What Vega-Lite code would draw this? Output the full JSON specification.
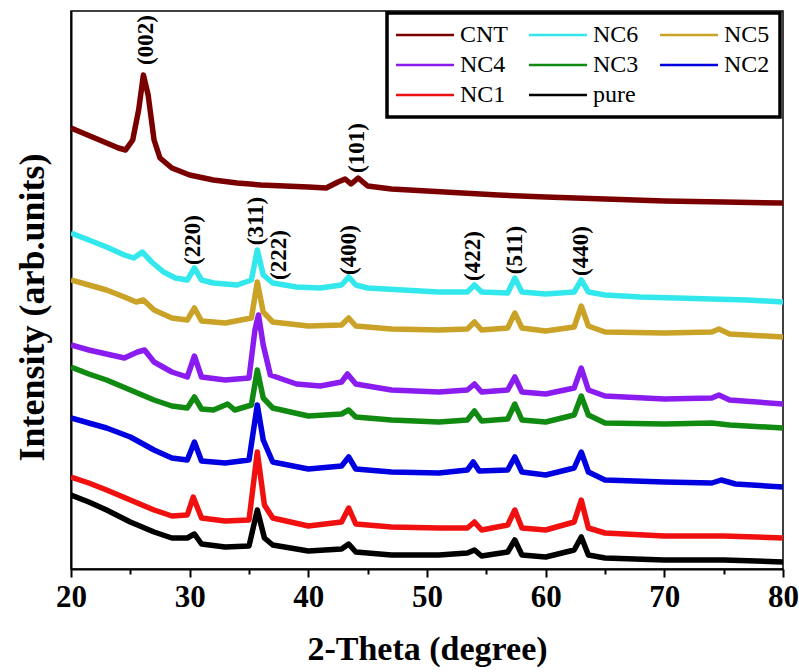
{
  "$schema": "https://vega.github.io/schema/vega-lite/v6.json",
  "width": 712,
  "height": 558,
  "autosize": "none",
  "padding": {"left": 71, "top": 11, "right": 16, "bottom": 103},
  "background": "white",
  "config": {
    "view": {"stroke": "black", "strokeWidth": 1.5},
    "font": "Times New Roman",
    "legend": {"strokeColor": "black", "strokeWidth": 3.5, "labelFont": "Times New Roman", "labelFontWeight": "normal"}
  },
  "datasets": {
    "xrd": [
      {"s":"CNT","x":20,"y":441},{"s":"CNT","x":21,"y":436},{"s":"CNT","x":22,"y":431},{"s":"CNT","x":23,"y":426},{"s":"CNT","x":24,"y":421},{"s":"CNT","x":24.6,"y":419},{"s":"CNT","x":25.2,"y":429},{"s":"CNT","x":25.7,"y":459},{"s":"CNT","x":26.1,"y":494},{"s":"CNT","x":26.5,"y":474},{"s":"CNT","x":27.0,"y":429},{"s":"CNT","x":27.5,"y":411},{"s":"CNT","x":28.5,"y":401},{"s":"CNT","x":30,"y":394},{"s":"CNT","x":32,"y":389},{"s":"CNT","x":34,"y":386},{"s":"CNT","x":36,"y":384},{"s":"CNT","x":38,"y":383},{"s":"CNT","x":40,"y":382},{"s":"CNT","x":41.5,"y":381},{"s":"CNT","x":42.5,"y":387},{"s":"CNT","x":43.1,"y":390},{"s":"CNT","x":43.6,"y":385},{"s":"CNT","x":44.2,"y":391},{"s":"CNT","x":45,"y":383},{"s":"CNT","x":47,"y":380},{"s":"CNT","x":50,"y":378},{"s":"CNT","x":53,"y":376},{"s":"CNT","x":56,"y":374},{"s":"CNT","x":60,"y":372},{"s":"CNT","x":65,"y":370},{"s":"CNT","x":70,"y":368},{"s":"CNT","x":75,"y":367},{"s":"CNT","x":80,"y":366},

      {"s":"NC6","x":20,"y":336},{"s":"NC6","x":21.5,"y":329},{"s":"NC6","x":23,"y":322},{"s":"NC6","x":24.5,"y":314},{"s":"NC6","x":25.3,"y":311},{"s":"NC6","x":26.0,"y":317},{"s":"NC6","x":26.8,"y":307},{"s":"NC6","x":27.8,"y":297},{"s":"NC6","x":28.8,"y":291},{"s":"NC6","x":29.8,"y":289},{"s":"NC6","x":30.4,"y":301},{"s":"NC6","x":31.0,"y":289},{"s":"NC6","x":32,"y":286},{"s":"NC6","x":34,"y":284},{"s":"NC6","x":35.2,"y":289},{"s":"NC6","x":35.7,"y":319},{"s":"NC6","x":36.2,"y":294},{"s":"NC6","x":37,"y":286},{"s":"NC6","x":39,"y":282},{"s":"NC6","x":41,"y":281},{"s":"NC6","x":42.8,"y":284},{"s":"NC6","x":43.4,"y":292},{"s":"NC6","x":44,"y":284},{"s":"NC6","x":45,"y":281},{"s":"NC6","x":48,"y":279},{"s":"NC6","x":51,"y":277},{"s":"NC6","x":53.4,"y":277},{"s":"NC6","x":54.0,"y":284},{"s":"NC6","x":54.6,"y":277},{"s":"NC6","x":56.8,"y":276},{"s":"NC6","x":57.4,"y":291},{"s":"NC6","x":58.0,"y":277},{"s":"NC6","x":60,"y":275},{"s":"NC6","x":62.4,"y":277},{"s":"NC6","x":63.0,"y":289},{"s":"NC6","x":63.6,"y":277},{"s":"NC6","x":65,"y":274},{"s":"NC6","x":68,"y":272},{"s":"NC6","x":71,"y":271},{"s":"NC6","x":74,"y":270},{"s":"NC6","x":77,"y":269},{"s":"NC6","x":80,"y":267},

      {"s":"NC5","x":20,"y":289},{"s":"NC5","x":21.5,"y":284},{"s":"NC5","x":23,"y":279},{"s":"NC5","x":24.5,"y":272},{"s":"NC5","x":25.5,"y":267},{"s":"NC5","x":26.1,"y":269},{"s":"NC5","x":27,"y":259},{"s":"NC5","x":28.5,"y":251},{"s":"NC5","x":29.8,"y":249},{"s":"NC5","x":30.4,"y":261},{"s":"NC5","x":31.0,"y":248},{"s":"NC5","x":33,"y":246},{"s":"NC5","x":35.2,"y":251},{"s":"NC5","x":35.7,"y":287},{"s":"NC5","x":36.2,"y":257},{"s":"NC5","x":37,"y":247},{"s":"NC5","x":40,"y":243},{"s":"NC5","x":42.8,"y":244},{"s":"NC5","x":43.4,"y":251},{"s":"NC5","x":44,"y":243},{"s":"NC5","x":47,"y":240},{"s":"NC5","x":51,"y":239},{"s":"NC5","x":53.4,"y":240},{"s":"NC5","x":54.0,"y":247},{"s":"NC5","x":54.6,"y":239},{"s":"NC5","x":56.8,"y":241},{"s":"NC5","x":57.4,"y":256},{"s":"NC5","x":58.0,"y":241},{"s":"NC5","x":60,"y":238},{"s":"NC5","x":62.4,"y":242},{"s":"NC5","x":63.0,"y":263},{"s":"NC5","x":63.6,"y":243},{"s":"NC5","x":65,"y":237},{"s":"NC5","x":70,"y":236},{"s":"NC5","x":74,"y":237},{"s":"NC5","x":74.6,"y":240},{"s":"NC5","x":75.5,"y":235},{"s":"NC5","x":80,"y":232},

      {"s":"NC4","x":20,"y":224},{"s":"NC4","x":21.5,"y":219},{"s":"NC4","x":23,"y":215},{"s":"NC4","x":24.5,"y":211},{"s":"NC4","x":25.6,"y":217},{"s":"NC4","x":26.2,"y":219},{"s":"NC4","x":27,"y":207},{"s":"NC4","x":28.5,"y":197},{"s":"NC4","x":29.8,"y":192},{"s":"NC4","x":30.4,"y":213},{"s":"NC4","x":31.0,"y":192},{"s":"NC4","x":33,"y":189},{"s":"NC4","x":35.0,"y":191},{"s":"NC4","x":35.5,"y":239},{"s":"NC4","x":35.8,"y":254},{"s":"NC4","x":36.2,"y":224},{"s":"NC4","x":36.8,"y":194},{"s":"NC4","x":39,"y":185},{"s":"NC4","x":41,"y":183},{"s":"NC4","x":42.8,"y":187},{"s":"NC4","x":43.3,"y":195},{"s":"NC4","x":44,"y":185},{"s":"NC4","x":47,"y":179},{"s":"NC4","x":51,"y":177},{"s":"NC4","x":53.4,"y":179},{"s":"NC4","x":54.0,"y":185},{"s":"NC4","x":54.6,"y":177},{"s":"NC4","x":56.8,"y":179},{"s":"NC4","x":57.4,"y":192},{"s":"NC4","x":58.0,"y":177},{"s":"NC4","x":60,"y":175},{"s":"NC4","x":62.4,"y":181},{"s":"NC4","x":63.0,"y":201},{"s":"NC4","x":63.6,"y":179},{"s":"NC4","x":65,"y":173},{"s":"NC4","x":70,"y":170},{"s":"NC4","x":74,"y":171},{"s":"NC4","x":74.6,"y":174},{"s":"NC4","x":75.5,"y":169},{"s":"NC4","x":80,"y":165},

      {"s":"NC3","x":20,"y":202},{"s":"NC3","x":21.5,"y":195},{"s":"NC3","x":23,"y":189},{"s":"NC3","x":25,"y":179},{"s":"NC3","x":27,"y":169},{"s":"NC3","x":28.5,"y":163},{"s":"NC3","x":29.8,"y":161},{"s":"NC3","x":30.4,"y":172},{"s":"NC3","x":31.0,"y":160},{"s":"NC3","x":32,"y":159},{"s":"NC3","x":33.2,"y":165},{"s":"NC3","x":33.8,"y":159},{"s":"NC3","x":35.2,"y":164},{"s":"NC3","x":35.7,"y":199},{"s":"NC3","x":36.2,"y":171},{"s":"NC3","x":37,"y":161},{"s":"NC3","x":40,"y":153},{"s":"NC3","x":42.8,"y":155},{"s":"NC3","x":43.4,"y":159},{"s":"NC3","x":44,"y":152},{"s":"NC3","x":47,"y":149},{"s":"NC3","x":51,"y":147},{"s":"NC3","x":53.4,"y":149},{"s":"NC3","x":54.0,"y":158},{"s":"NC3","x":54.6,"y":148},{"s":"NC3","x":56.8,"y":150},{"s":"NC3","x":57.4,"y":165},{"s":"NC3","x":58.0,"y":149},{"s":"NC3","x":60,"y":147},{"s":"NC3","x":62.4,"y":154},{"s":"NC3","x":63.0,"y":173},{"s":"NC3","x":63.6,"y":154},{"s":"NC3","x":65,"y":146},{"s":"NC3","x":70,"y":145},{"s":"NC3","x":74,"y":146},{"s":"NC3","x":75.5,"y":144},{"s":"NC3","x":80,"y":141},

      {"s":"NC2","x":20,"y":151},{"s":"NC2","x":21.5,"y":146},{"s":"NC2","x":23,"y":141},{"s":"NC2","x":25,"y":132},{"s":"NC2","x":27,"y":119},{"s":"NC2","x":28.5,"y":111},{"s":"NC2","x":29.8,"y":109},{"s":"NC2","x":30.4,"y":127},{"s":"NC2","x":31.0,"y":108},{"s":"NC2","x":33,"y":106},{"s":"NC2","x":35.0,"y":109},{"s":"NC2","x":35.7,"y":164},{"s":"NC2","x":36.2,"y":129},{"s":"NC2","x":37,"y":107},{"s":"NC2","x":40,"y":100},{"s":"NC2","x":42.8,"y":103},{"s":"NC2","x":43.4,"y":112},{"s":"NC2","x":44,"y":100},{"s":"NC2","x":47,"y":97},{"s":"NC2","x":51,"y":96},{"s":"NC2","x":53.4,"y":99},{"s":"NC2","x":53.9,"y":107},{"s":"NC2","x":54.4,"y":98},{"s":"NC2","x":56.8,"y":99},{"s":"NC2","x":57.4,"y":112},{"s":"NC2","x":58.0,"y":97},{"s":"NC2","x":60,"y":94},{"s":"NC2","x":62.4,"y":101},{"s":"NC2","x":63.0,"y":117},{"s":"NC2","x":63.6,"y":97},{"s":"NC2","x":65,"y":89},{"s":"NC2","x":70,"y":87},{"s":"NC2","x":74,"y":86},{"s":"NC2","x":74.8,"y":89},{"s":"NC2","x":76,"y":85},{"s":"NC2","x":80,"y":82},

      {"s":"NC1","x":20,"y":92},{"s":"NC1","x":21.5,"y":86},{"s":"NC1","x":23,"y":79},{"s":"NC1","x":25,"y":69},{"s":"NC1","x":27,"y":59},{"s":"NC1","x":28.5,"y":53},{"s":"NC1","x":29.8,"y":54},{"s":"NC1","x":30.3,"y":72},{"s":"NC1","x":31.0,"y":51},{"s":"NC1","x":33,"y":48},{"s":"NC1","x":35.0,"y":49},{"s":"NC1","x":35.7,"y":117},{"s":"NC1","x":36.3,"y":64},{"s":"NC1","x":37,"y":51},{"s":"NC1","x":40,"y":43},{"s":"NC1","x":42.8,"y":47},{"s":"NC1","x":43.4,"y":61},{"s":"NC1","x":44,"y":45},{"s":"NC1","x":47,"y":42},{"s":"NC1","x":51,"y":41},{"s":"NC1","x":53.4,"y":41},{"s":"NC1","x":54.0,"y":47},{"s":"NC1","x":54.6,"y":39},{"s":"NC1","x":56.8,"y":44},{"s":"NC1","x":57.4,"y":59},{"s":"NC1","x":58.0,"y":41},{"s":"NC1","x":60,"y":39},{"s":"NC1","x":62.4,"y":47},{"s":"NC1","x":63.0,"y":69},{"s":"NC1","x":63.6,"y":41},{"s":"NC1","x":65,"y":36},{"s":"NC1","x":70,"y":33},{"s":"NC1","x":75,"y":33},{"s":"NC1","x":80,"y":31},

      {"s":"pure","x":20,"y":74},{"s":"pure","x":21.5,"y":67},{"s":"pure","x":23,"y":59},{"s":"pure","x":25,"y":47},{"s":"pure","x":27,"y":37},{"s":"pure","x":28.5,"y":31},{"s":"pure","x":29.8,"y":31},{"s":"pure","x":30.4,"y":35},{"s":"pure","x":31.0,"y":25},{"s":"pure","x":33,"y":22},{"s":"pure","x":35.0,"y":23},{"s":"pure","x":35.7,"y":59},{"s":"pure","x":36.3,"y":31},{"s":"pure","x":37,"y":24},{"s":"pure","x":40,"y":18},{"s":"pure","x":42.8,"y":20},{"s":"pure","x":43.4,"y":25},{"s":"pure","x":44,"y":17},{"s":"pure","x":47,"y":14},{"s":"pure","x":51,"y":14},{"s":"pure","x":53.4,"y":16},{"s":"pure","x":54.0,"y":19},{"s":"pure","x":54.6,"y":13},{"s":"pure","x":56.8,"y":17},{"s":"pure","x":57.4,"y":29},{"s":"pure","x":58.0,"y":14},{"s":"pure","x":60,"y":12},{"s":"pure","x":62.4,"y":19},{"s":"pure","x":63.0,"y":32},{"s":"pure","x":63.6,"y":14},{"s":"pure","x":65,"y":11},{"s":"pure","x":70,"y":9},{"s":"pure","x":75,"y":9},{"s":"pure","x":80,"y":7}
    ],
    "peaks": [
      {"label":"(002)","x":26.3,"y":529},
      {"label":"(101)","x":44.1,"y":421},
      {"label":"(220)","x":30.3,"y":329},
      {"label":"(311)","x":35.6,"y":348},
      {"label":"(222)","x":37.5,"y":314},
      {"label":"(400)","x":43.4,"y":319},
      {"label":"(422)","x":53.9,"y":313},
      {"label":"(511)","x":57.4,"y":319},
      {"label":"(440)","x":63.0,"y":318}
    ]
  },
  "layer": [
    {
      "data": {"name": "xrd"},
      "mark": {"type": "line", "strokeWidth": 5.5, "strokeJoin": "round", "clip": true},
      "encoding": {
        "x": {
          "field": "x", "type": "quantitative",
          "scale": {"domain": [20, 80], "nice": false, "zero": false},
          "axis": {
            "title": "2-Theta (degree)",
            "values": [20,25,30,35,40,45,50,55,60,65,70,75,80],
            "labelExpr": "datum.value % 10 === 0 ? datum.label : ''",
            "tickSize": {"condition": {"test": "datum.value % 10 === 0", "value": 8}, "value": 5},
            "tickColor": "black", "tickWidth": 2,
            "domainColor": "black", "domainWidth": 2,
            "grid": false,
            "labelFont": "Times New Roman", "labelFontWeight": "bold", "labelFontSize": 31, "labelColor": "black",
            "labelPadding": 5, "labelFlush": false,
            "titleFont": "Times New Roman", "titleFontWeight": "bold", "titleFontSize": 34, "titleColor": "black",
            "titlePadding": 20
          }
        },
        "y": {
          "field": "y", "type": "quantitative",
          "scale": {"domain": [0, 558], "nice": false},
          "axis": {
            "title": "Intensity (arb.units)",
            "ticks": false, "labels": false, "grid": false,
            "domainColor": "black", "domainWidth": 2,
            "titleFont": "Times New Roman", "titleFontWeight": "bold", "titleFontSize": 36, "titleColor": "black",
            "titlePadding": 20, "titleY": 296
          }
        },
        "color": {
          "field": "s", "type": "nominal",
          "scale": {
            "domain": ["CNT","NC6","NC5","NC4","NC3","NC2","NC1","pure"],
            "range": ["#7a0000","#33e8ec","#c9a227","#8b1cf0","#108a10","#0000e0","#f01010","#000000"]
          },
          "legend": {
            "title": null,
            "orient": "none", "legendX": 316, "legendY": 2,
            "direction": "horizontal", "columns": 3,
            "symbolType": "M-2.9,0H2.9", "symbolSize": 400, "symbolStrokeWidth": 2.5, "symbolOffset": 16,
            "labelFont": "Times New Roman", "labelFontWeight": "normal", "labelFontSize": 24, "labelColor": "black",
            "labelOffset": 23, "columnPadding": 16, "rowPadding": 6, "padding": 10,
            "strokeColor": "black", "fillColor": "white"
          }
        }
      }
    },
    {
      "data": {"name": "peaks"},
      "mark": {"type": "text", "angle": 270, "font": "Times New Roman", "fontWeight": "bold", "fontSize": 23, "color": "black", "align": "center", "baseline": "middle"},
      "encoding": {
        "x": {"field": "x", "type": "quantitative"},
        "y": {"field": "y", "type": "quantitative"},
        "text": {"field": "label"}
      }
    }
  ]
}
